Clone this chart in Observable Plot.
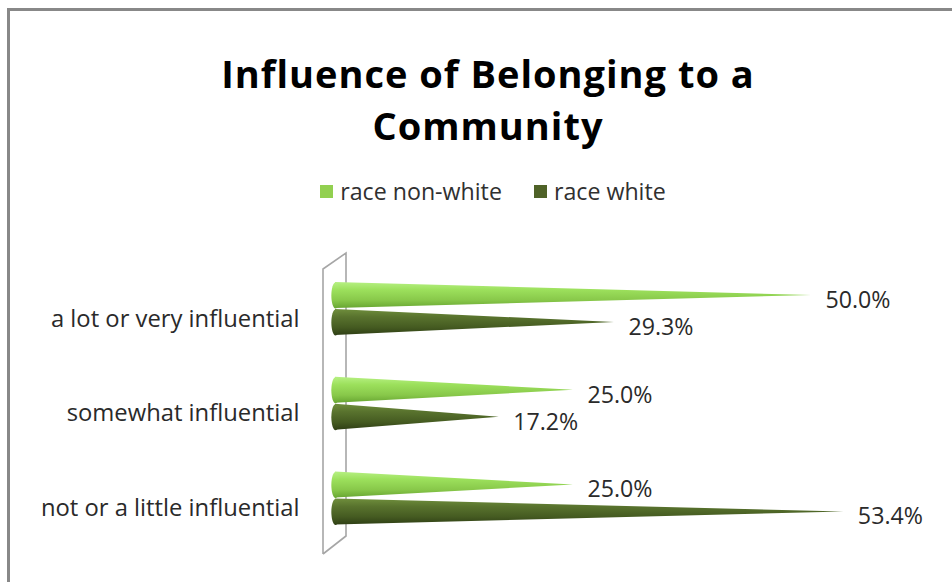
<!DOCTYPE html>
<html><head><meta charset="utf-8">
<script src="https://cdn.jsdelivr.net/npm/d3@7"></script>
<script src="https://cdn.jsdelivr.net/npm/@observablehq/plot@0.6"></script>
<style>
html,body{margin:0;padding:0;background:#fff;}
#root{position:relative;width:952px;height:582px;overflow:hidden;background:#fff;font-family:"Open Sans",sans-serif;}
#frame{position:absolute;left:7px;top:8px;width:1000px;height:1000px;border-left:3px solid #888;border-top:3px solid #888;}
#title{position:absolute;left:8px;width:960px;top:47px;text-align:center;font-weight:700;font-size:38px;letter-spacing:1px;line-height:52px;color:#000;}
#legend{position:absolute;left:0;width:986px;top:176px;height:30px;display:flex;justify-content:center;align-items:center;font-size:23.2px;color:#303030;}
.item{display:flex;align-items:center;margin:0 16px;}
.sw{width:13px;height:13px;margin-right:7px;}
#chart{position:absolute;left:0;top:230px;}
</style></head>
<body>
<div id="root">
  <div id="frame"></div>
  <div id="title">Influence of Belonging to a<br>Community</div>
  <div id="legend"></div>
  <div id="chart"></div>
</div>
<script>
// ---- data ----
const categories = ["a lot or very influential", "somewhat influential", "not or a little influential"];
const seriesNames = ["race non-white", "race white"];
const nonWhite = [50.0, 25.0, 25.0];
const white = [29.3, 17.2, 53.4];
const seriesColors = ["#92d050", "#4f6228"];

// ---- layout constants ----
const W = 952, H = 352;
const unitPx = 94.75;          // px between category centers
const off = 13.5 / unitPx;     // series offset from category center
const half = 13 / unitPx;      // cone half thickness
const gradIds = ["gradNW", "gradW"];

const rows = [];
categories.forEach((c, i) => {
  [nonWhite, white].forEach((arr, s) => {
    rows.push({cat: c, series: seriesNames[s], s, value: arr[i], yc: i + (s === 0 ? -off : off), key: c + "|" + s});
  });
});
const conePts = rows.flatMap(r => [
  {key: r.key, s: r.s, y: r.yc - half, x: 0},
  {key: r.key, s: r.s, y: r.yc, x: r.value},
  {key: r.key, s: r.s, y: r.yc + half, x: 0}
]);

// ellipse symbol for the cone base
const ellipse = {
  draw(ctx, size) {
    const ry = Math.sqrt(size / Math.PI), rx = ry * 0.32, k = 0.5523;
    ctx.moveTo(0, -ry);
    ctx.bezierCurveTo(rx * k, -ry, rx, -ry * k, rx, 0);
    ctx.bezierCurveTo(rx, ry * k, rx * k, ry, 0, ry);
    ctx.bezierCurveTo(-rx * k, ry, -rx, ry * k, -rx, 0);
    ctx.bezierCurveTo(-rx, -ry * k, -rx * k, -ry, 0, -ry);
    ctx.closePath();
  }
};

// legend
const legend = document.getElementById("legend");
seriesNames.forEach((n, s) => {
  const it = document.createElement("div");
  it.className = "item";
  it.innerHTML = `<div class="sw" style="background:${seriesColors[s]}"></div><span>${n}</span>`;
  legend.appendChild(it);
});

const font = "Open Sans";
const marks = [];
[0, 1].forEach(s => {
  marks.push(Plot.areaX(conePts.filter(d => d.s === s), {y: "y", x1: 0, x2: "x", z: "key", fill: `url(#${gradIds[s]})`, curve: "linear"}));
  marks.push(Plot.dot(rows.filter(d => d.s === s), {x: 0, y: "yc", r: 13, symbol: ellipse, fill: `url(#${gradIds[s]})`, stroke: "none"}));
});
marks.push(Plot.text(rows, {x: "value", y: "yc", text: d => d.value.toFixed(1) + "%", dx: 14, dy: 5, textAnchor: "start", fontSize: 23.2, fill: "#2a2a2a"}));
marks.push(Plot.axisY([0, 1, 2], {tickFormat: i => categories[i], tickSize: 0, tickPadding: 36, fontSize: 23.8, dy: 10, fill: "#2a2a2a", label: null}));

const plot = Plot.plot({
  width: W, height: H,
  marginLeft: 335, marginRight: 45.8, marginTop: 0, marginBottom: 0,
  style: {fontFamily: font, background: "transparent", overflow: "visible", color: "#2a2a2a"},
  x: {domain: [0, 60], axis: null},
  y: {domain: [0, 2], range: [78.5, 78.5 + 2 * unitPx]},
  marks
});
document.getElementById("chart").appendChild(plot);

// gradients and the 3D axis wall, placed through the plot's scales
const svg = d3.select(plot.tagName.toLowerCase() === "svg" ? plot : plot.querySelector("svg"));
const defs = svg.insert("defs", ":first-child");
const stops = [
  [["0", "#b6f082"], ["0.3", "#9ce05c"], ["0.7", "#88c84a"], ["1", "#68a632"]],
  [["0", "#6f8e3c"], ["0.3", "#59732e"], ["0.7", "#455b21"], ["1", "#2f3f15"]]
];
stops.forEach((st, s) => {
  const g = defs.append("linearGradient").attr("id", gradIds[s]).attr("x1", 0).attr("y1", 0).attr("x2", 0).attr("y2", 1);
  st.forEach(([o, c]) => g.append("stop").attr("offset", o).attr("stop-color", c));
});
const xs = plot.scale("x"), ys = plot.scale("y");
const x0 = xs.apply(0);
const fx = x0 - 12, bx = x0 + 11;
const topF = ys.apply(0) - 39.5, botF = ys.apply(2) + 56;
const topB = topF - 16, botB = botF - 18;
const wall = svg.insert("g", "g").attr("fill", "none").attr("stroke", "#a6a6a6").attr("stroke-width", 1.6);
wall.append("path").attr("d", `M${fx},${botF}L${fx},${topF}L${bx},${topB}L${bx},${botB}L${fx},${botF}`);
</script>
</body></html>
